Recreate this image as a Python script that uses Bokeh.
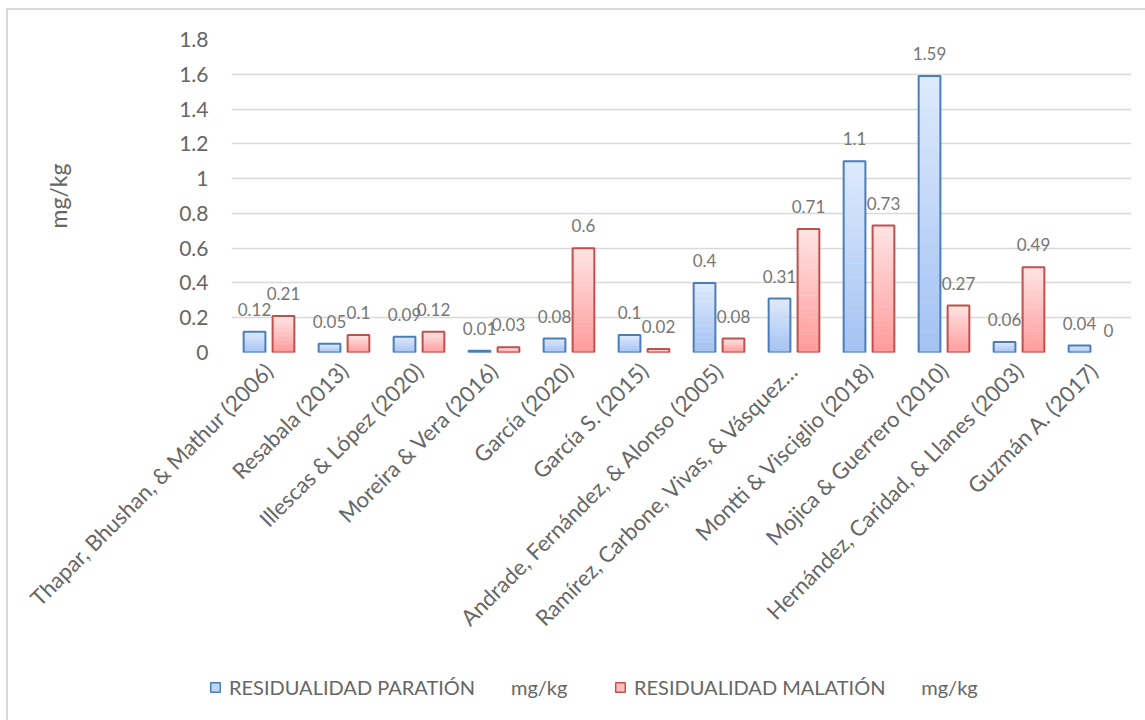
import math
from bokeh.plotting import figure
from bokeh.layouts import column
from bokeh.models import ColumnDataSource, FixedTicker, Legend, LegendItem
from bokeh.transform import dodge
from bokeh.core.properties import value
from bokeh.embed import file_html
from bokeh.resources import INLINE

# ---- data -------------------------------------------------------------
studies = [
    "Thapar, Bhushan, & Mathur (2006)",
    "Resabala (2013)",
    "Illescas & López (2020)",
    "Moreira & Vera (2016)",
    "García (2020)",
    "García S. (2015)",
    "Andrade, Fernández, & Alonso (2005)",
    "Ramírez, Carbone, Vivas, & Vásquez…",
    "Montti & Visciglio (2018)",
    "Mojica & Guerrero (2010)",
    "Hernández, Caridad, & Llanes (2003)",
    "Guzmán A. (2017)",
]
paration = [0.12, 0.05, 0.09, 0.01, 0.08, 0.1, 0.4, 0.31, 1.1, 1.59, 0.06, 0.04]
malation = [0.21, 0.1, 0.12, 0.03, 0.6, 0.02, 0.08, 0.71, 0.73, 0.27, 0.49, 0]
series_names = ["RESIDUALIDAD PARATIÓN", "RESIDUALIDAD MALATIÓN"]
unit = "mg/kg"
y_ticks = [0, 0.2, 0.4, 0.6, 0.8, 1.0, 1.2, 1.4, 1.6, 1.8]
y_tick_labels = ["0", "0.2", "0.4", "0.6", "0.8", "1", "1.2", "1.4", "1.6", "1.8"]

# ---- styling ------------------------------------------------------------
FONT = "Lato"
TEXT = "#666666"
LABEL = "#767676"
GRID = "#d9d9d9"
BAR_W = 0.29
OFFSETS = [-0.193, 0.193]
# (outline, bottom shade, top shade) of each series' vertical gradient
SHADES = [
    ("#4a7ebb", (0xa3, 0xc1, 0xf2), (0xde, 0xea, 0xfc)),
    ("#c0504d", (0xff, 0x9a, 0x9a), (0xff, 0xe4, 0xe4)),
]
STEPS = 28


def hexcol(rgb):
    return "#%02x%02x%02x" % tuple(int(round(c)) for c in rgb)


p = figure(
    x_range=studies, y_range=(0, 1.8),
    width=1137, height=660,
    min_border_left=223, min_border_right=14,
    min_border_top=29, min_border_bottom=318,
    output_backend="svg", toolbar_location=None,
    background_fill_color="white", border_fill_color="white",
)
p.outline_line_color = None
p.frame_align = False

# y axis: labels only, light horizontal gridlines
p.yaxis.ticker = FixedTicker(ticks=y_ticks)
p.yaxis.major_label_overrides = {t: s for t, s in zip(y_ticks, y_tick_labels)}
p.yaxis.axis_line_color = None
p.yaxis.major_tick_line_color = None
p.yaxis.minor_tick_line_color = None
p.yaxis.major_label_standoff = 17
p.yaxis.major_label_text_font = FONT
p.yaxis.major_label_text_font_size = "21px"
p.yaxis.major_label_text_color = TEXT
p.yaxis.axis_label = unit
p.yaxis.axis_label_text_font = FONT
p.yaxis.axis_label_text_font_style = "normal"
p.yaxis.axis_label_text_font_size = "23px"
p.yaxis.axis_label_text_color = TEXT
p.yaxis.axis_label_standoff = 104
p.ygrid.grid_line_color = GRID
p.ygrid.grid_line_width = 1.5
p.xgrid.grid_line_color = None

# x axis: study names at 45 degrees
p.xaxis.axis_line_color = None
p.xaxis.major_tick_line_color = None
p.xaxis.major_label_orientation = math.pi / 4
p.xaxis.major_label_standoff = 8
p.xaxis.major_label_text_font = FONT
p.xaxis.major_label_text_font_size = "22px"
p.xaxis.major_label_text_color = TEXT
p.x_range.range_padding = 0

# legend strip under the chart
leg = figure(
    x_range=(0, 1), y_range=(0, 1), width=1137, height=50,
    min_border=0, x_axis_location=None, y_axis_location=None,
    output_backend="svg", toolbar_location=None,
    background_fill_color="white", border_fill_color="white",
)
leg.outline_line_color = None
leg.grid.visible = False
leg.frame_align = False

legend_items = []
for s, vals in enumerate([paration, malation]):
    outline, bottom_rgb, top_rgb = SHADES[s]
    xpos = dodge("study", OFFSETS[s], range=p.x_range)
    mid = hexcol([(a + b) / 2 for a, b in zip(bottom_rgb, top_rgb)])
    nz_cats = [c for c, v in zip(studies, vals) if v > 0]
    nz_vals = [v for v in vals if v > 0]
    base = ColumnDataSource(dict(study=nz_cats, top=nz_vals))

    # gradient: stacked slices of each bar, dark at the bottom, light at the top
    sl = dict(study=[], bottom=[], top=[], color=[])
    for cat, v in zip(nz_cats, nz_vals):
        for k in range(STEPS):
            t = (k + 0.5) / STEPS
            sl["study"].append(cat)
            sl["bottom"].append(v * k / STEPS)
            sl["top"].append(v * (k + 1) / STEPS)
            sl["color"].append(hexcol([b + (tp - b) * t for b, tp in zip(bottom_rgb, top_rgb)]))
    p.vbar(x=xpos, bottom="bottom", top="top", width=BAR_W,
           source=ColumnDataSource(sl), fill_color="color",
           line_color="color", line_width=0.6)

    # outline drawn on top of the gradient
    p.vbar(x=xpos, top="top", width=BAR_W, source=base,
           fill_color=None, line_color=outline, line_width=2)

    # value labels above each bar
    lab = ColumnDataSource(dict(study=studies, y=vals, txt=[f"{v:g}" for v in vals]))
    p.text(x=xpos, y="y", text="txt", source=lab,
           text_align="center", text_baseline="bottom", y_offset=-16,
           text_font=value(FONT), text_font_size="17px", text_color=LABEL)

    # swatch-only renderer for the legend (no drawable bar)
    sw = leg.vbar(x=[0.5], top=[math.nan], width=0.01,
                  fill_color=mid, line_color=outline, line_width=1.5)
    legend_items.append(LegendItem(
        label=f"{series_names[s]}" + "\u00a0" * 7 + unit, renderers=[sw]))

legend = Legend(
    items=legend_items, orientation="horizontal",
    location=(201, 21),
    padding=0, margin=0, spacing=12,
    glyph_width=12, glyph_height=12, label_standoff=8, label_width=373,
    label_text_font=FONT, label_text_font_size="20px",
    label_text_color=TEXT, border_line_color=None,
    background_fill_alpha=0,
)
leg.add_layout(legend)

page = column(p, leg, spacing=0, styles={
    "margin-left": "6px", "margin-top": "8px",
    "border-left": "2px solid #d9d9d9", "border-top": "2px solid #d9d9d9",
})

open("out.html", "w").write(file_html(page, INLINE))
